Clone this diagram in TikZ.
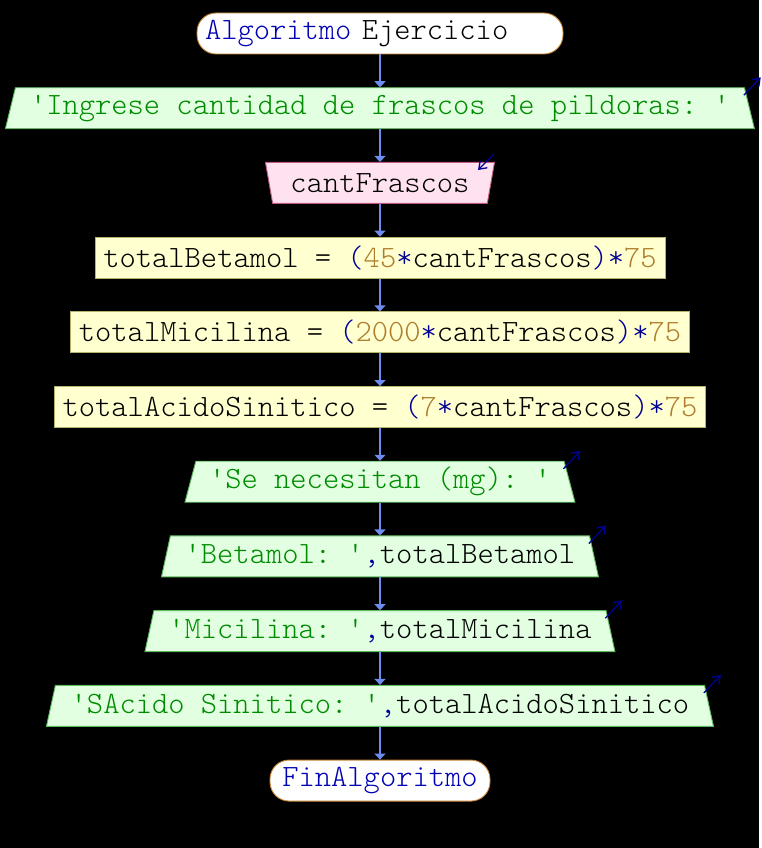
\documentclass[tikz,border=0pt]{standalone}
\usepackage{fontspec}
\setmonofont{Latin Modern Mono Light}
\usepackage{xcolor}
\usetikzlibrary{arrows.meta,positioning,shapes.geometric,calc}

\definecolor{kwblue}{RGB}{0,0,180}
\definecolor{opblue}{RGB}{0,0,150}
\definecolor{strgreen}{RGB}{0,140,0}
\definecolor{numbrown}{RGB}{175,125,45}
\definecolor{flowblue}{RGB}{110,140,240}
\definecolor{outfill}{RGB}{226,255,226}
\definecolor{outline}{RGB}{90,185,90}
\definecolor{infill}{RGB}{255,226,240}
\definecolor{inline}{RGB}{190,90,130}
\definecolor{asgfill}{RGB}{255,255,208}
\definecolor{asgline}{RGB}{180,180,110}
\definecolor{termline}{RGB}{195,130,50}

\newcommand{\kw}[1]{{\color{kwblue}#1}}
\newcommand{\op}[1]{{\color{opblue}#1}}
\newcommand{\str}[1]{{\color{strgreen}#1}}
\newcommand{\num}[1]{{\color{numbrown}#1}}

\begin{document}
\begin{tikzpicture}[
  x=1pt,y=-1pt,
  node distance=32.8pt,
  font=\fontsize{31}{31}\selectfont\ttfamily,
  base/.style={minimum height=41pt,inner xsep=0pt,inner ysep=0pt,line width=0.9pt},
  term/.style={base,draw=termline,fill=white,rounded corners=19pt},
  outbox/.style={base,trapezium,trapezium left angle=69.4,trapezium right angle=69.4,
    trapezium stretches body,draw=outline,fill=outfill},
  inbox/.style={base,trapezium,trapezium left angle=110.6,trapezium right angle=110.6,
    trapezium stretches body,draw=inline,fill=infill},
  asgbox/.style={base,draw=asgline,fill=asgfill},
  flow/.style={-{Triangle[width=11pt,length=6pt]},flowblue,line width=1.3pt},
  iomark/.style={-{Straight Barb[length=7pt,width=10pt]},opblue,line width=1.3pt}
]
\fill[black] (0,0) rectangle (759,848);
\node[term,minimum width=366pt,text width=350pt,align=left,inner xsep=8pt] (start) at (380,33.5)
  {\kw{Algoritmo} Ejercicio};
\node[outbox,minimum width=749pt,below=of start] (msgIngrese)
  {\str{'Ingrese cantidad de frascos de pildoras: '}};
\node[inbox,minimum width=229pt,below=of msgIngrese] (readFrascos) {cantFrascos};
\node[asgbox,minimum width=570pt,below=of readFrascos] (asgBetamol)
  {totalBetamol = \op{(}\num{45}\op{*}cantFrascos\op{)*}\num{75}};
\node[asgbox,minimum width=619pt,below=of asgBetamol] (asgMicilina)
  {totalMicilina = \op{(}\num{2000}\op{*}cantFrascos\op{)*}\num{75}};
\node[asgbox,minimum width=651pt,below=of asgMicilina] (asgAcido)
  {totalAcidoSinitico = \op{(}\num{7}\op{*}cantFrascos\op{)*}\num{75}};
\node[outbox,minimum width=390pt,below=of asgAcido] (msgNecesitan)
  {\str{'Se necesitan (mg): '}};
\node[outbox,minimum width=437pt,below=of msgNecesitan] (outBetamol)
  {\str{'Betamol: '}\op{,}totalBetamol};
\node[outbox,minimum width=470pt,below=of outBetamol] (outMicilina)
  {\str{'Micilina: '}\op{,}totalMicilina};
\node[outbox,minimum width=667pt,below=of outMicilina] (outAcido)
  {\str{'SAcido Sinitico: '}\op{,}totalAcidoSinitico};
\node[term,minimum width=220pt,below=of outAcido] (fin) {\kw{FinAlgoritmo}};
% flujo
\foreach \a/\b in {start/msgIngrese,msgIngrese/readFrascos,readFrascos/asgBetamol,
  asgBetamol/asgMicilina,asgMicilina/asgAcido,asgAcido/msgNecesitan,
  msgNecesitan/outBetamol,outBetamol/outMicilina,outMicilina/outAcido,outAcido/fin}
  \draw[flow] (\a.south) -- (\b.north);
% marcas de entrada/salida
\foreach \n in {msgIngrese,msgNecesitan,outBetamol,outMicilina,outAcido}
  \draw[iomark] ($(\n.top right corner)+(-1,8)$) -- ($(\n.top right corner)+(16,-10)$);
\draw[iomark] ($(readFrascos.top right corner)+(-1,-8)$) -- ($(readFrascos.top right corner)+(-17,8)$);
\end{tikzpicture}
\end{document}
